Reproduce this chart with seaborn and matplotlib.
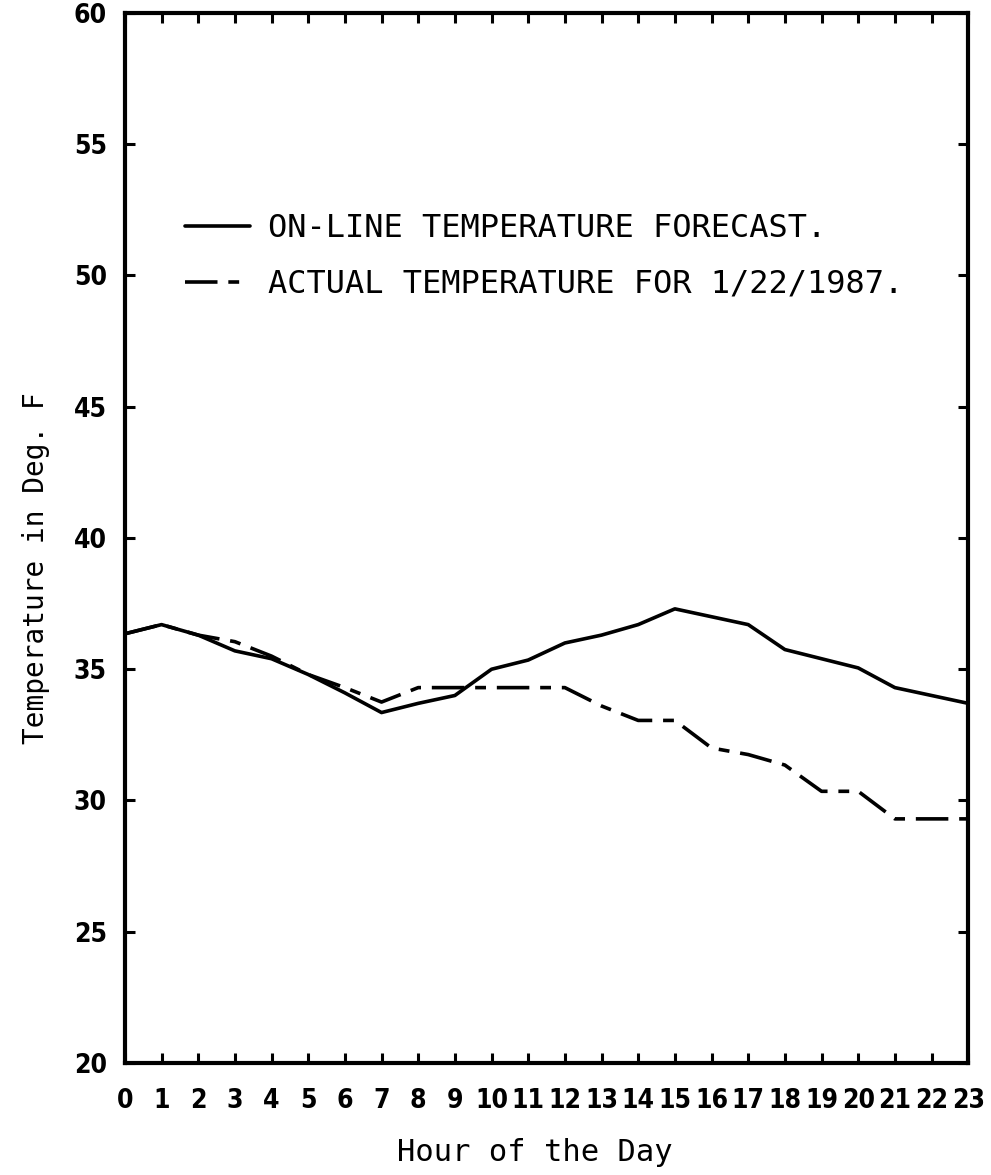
import matplotlib
matplotlib.use("Agg")
import matplotlib.pyplot as plt
import seaborn as sns
import numpy as np
import pandas as pd


# hourly temperatures
hours = list(range(24))
forecast = [36.35, 36.7, 36.3, 35.7, 35.4, 34.8, 34.1, 33.35, 33.7, 34.0, 35.0, 35.35,
            36.0, 36.3, 36.7, 37.3, 37.0, 36.7, 35.75, 35.4, 35.05, 34.3, 34.0, 33.7]
actual = [36.35, 36.7, 36.3, 36.05, 35.5, 34.8, 34.3, 33.75, 34.3, 34.3, 34.3, 34.3,
          34.3, 33.6, 33.05, 33.05, 32.0, 31.75, 31.35, 30.35, 30.35, 29.3, 29.3, 29.3]
label_forecast = "ON-LINE TEMPERATURE FORECAST."
label_actual = "ACTUAL TEMPERATURE FOR 1/22/1987."
yticks = [20, 25, 30, 35, 40, 45, 50, 55, 60]

df = pd.DataFrame({"hour": hours, "forecast": forecast, "actual": actual})

sns.set_theme(style="ticks")
plt.rcParams['font.family'] = ['DejaVu Sans Mono', 'DejaVu Sans']

fig = plt.figure(figsize=(9.91, 11.75), dpi=100)
ax = fig.add_axes([0.126, 0.0953, 0.851, 0.8937])

# actual first, forecast drawn on top
sns.lineplot(x="hour", y="actual", data=df, ax=ax, color="black", lw=2.6,
             label=label_actual)
ax.lines[-1].set_dashes((9, 3, 3, 3))
sns.lineplot(x="hour", y="forecast", data=df, ax=ax, color="black", lw=2.6,
             label=label_forecast)

ax.set_xlim(0, 23)
ax.set_ylim(20, 60)
ax.set_xticks(hours)
ax.set_yticks(yticks)

# narrow bold digits like the plotter font
tickfont = dict(family=['DejaVu Sans'], stretch='condensed', weight='bold', size=19)
ax.set_xticklabels([str(h) for h in hours], fontdict=tickfont)
ax.set_yticklabels([str(t) for t in yticks], fontdict=tickfont)

ax.tick_params(axis='both', which='major', direction='in', length=7, width=2.2,
               top=True, right=True, colors='black')
ax.tick_params(axis='x', pad=18)
ax.tick_params(axis='y', pad=13)
for sp in ax.spines.values():
    sp.set_linewidth(3)
    sp.set_color('black')
    sp.set_visible(True)

ax.set_xlabel("Hour of the Day", fontsize=22, color='black')
ax.set_ylabel("Temperature in Deg. F", fontsize=20, color='black')
ax.xaxis.set_label_coords(0.486, -0.071)
ax.yaxis.set_label_coords(-0.089, 0.471)

handles, labels = ax.get_legend_handles_labels()
leg = ax.legend(handles[::-1], labels[::-1], loc='upper left', bbox_to_anchor=(0.071, 0.809),
                frameon=False, fontsize=23, handlelength=2.05, handletextpad=0.56,
                labelspacing=0.76, borderpad=0, borderaxespad=0)
for t in leg.get_texts():
    t.set_color('black')

fig.savefig("out.png", dpi=100, facecolor='white')
